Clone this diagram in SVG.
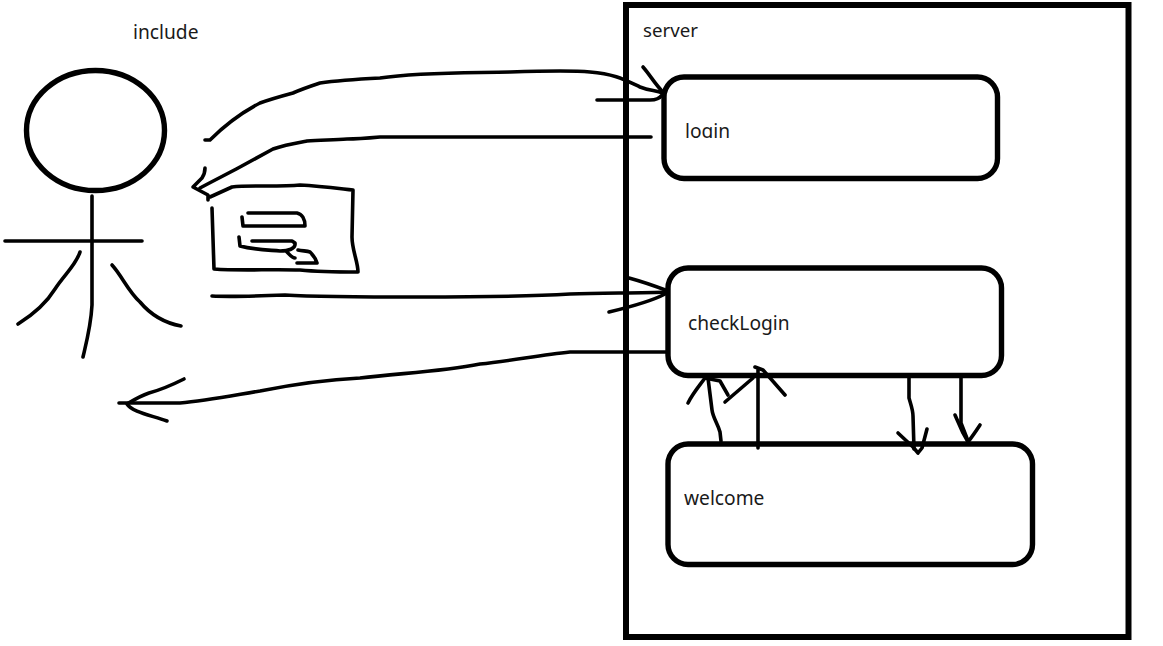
<svg xmlns="http://www.w3.org/2000/svg" width="1163" height="646" viewBox="0 0 1163 646">
<style>
.s{fill:none;stroke:#000;stroke-width:3.6;stroke-linecap:round;stroke-linejoin:round}
.b{fill:none;stroke:#000;stroke-width:5.400}
.t{font-family:"Noto Sans","Open Sans","Liberation Sans",sans-serif;font-size:19.200px;fill:#1a1a1a}
</style>
<defs><clipPath id="cut"><rect x="680" y="115" width="60" height="23"/></clipPath></defs>
<rect width="1163" height="646" fill="#fff"/>
<g id="server"><rect class="b" x="626" y="5" width="502.500" height="632" style="stroke-width:6"/><text class="t" x="643" y="37" style="font-size:18.700px">server</text></g>
<g id="login"><rect class="b" x="664" y="77" width="333.500" height="101.500" rx="20"/><text class="t" x="685" y="138" clip-path="url(#cut)">login</text></g>
<g id="checkLogin"><rect class="b" x="668" y="268" width="333.500" height="107.500" rx="20"/><text class="t" x="688" y="330">checkLogin</text></g>
<g id="welcome"><rect class="b" x="668" y="444" width="364.500" height="120.500" rx="20"/><text class="t" x="684" y="505">welcome</text></g>
<g id="include-label"><text class="t" x="133" y="39">include</text></g>
<g id="user">
<ellipse cx="95.500" cy="130.500" rx="69" ry="60" fill="none" stroke="#000" stroke-width="5.400"/>
<path class="s" d="M92 196V305C91 325 87 340 83 357"/>
<path class="s" d="M5 241H142"/>
<path class="s" d="M80 252C76 265 64 275 55 289C47 302 34 314 18 324"/>
<path class="s" d="M112 265C122 276 128 291 140 302C150 314 165 323 181 326"/>
</g>
<g id="document">
<path class="s" d="M212 208L214 269C240 271 270 269 300 270C320 272 340 272 358 272C358 262 352 250 352 237L353 190C335 188 320 186 300 185C280 187 250 185 232 187L210 197"/>
<path class="s" d="M248 213H297C302 214 305 219 305 226H243L242 217"/>
<path class="s" d="M239 237L240 246C255 250 270 250 280 251C288 251 296 249 295 243L292 241H252"/>
<path class="s" d="M287 252C290 255 292 258 295 258M298 250C303 251 307 251 310 252C313 255 316 259 317 263H297"/>
</g>
<g id="connectors">
<path class="s" d="M205 140H210C224 126 241 113 260 103C271 99 282 96 293 93C302 89 311 86 320 83C340 80 360 79 380 78C420 72 470 73 510 72C540 71 570 70 590 72C615 74 625 80 640 87C650 91 655 90 663 93"/>
<path class="s" d="M643 67C650 75 655 84 662 91"/>
<path class="s" d="M597 100H650C657 100 660 98 662 95"/>
<path class="s" d="M651 137H500C450 137 410 137 380 137C369 138 358 139 347 139C334 140 320 140 307 141C296 143 284 145 273 149C262 155 251 161 240 167C227 174 213 181 200 188"/>
<path class="s" d="M205 168C205 172 204 175 202 178C199 181 196 184 193 187L208 195L208 200"/>
<path class="s" d="M212 296C230 297 260 296 285 295C320 297 370 297 420 297C470 297 520 297 570 294C605 293 640 293 668 292"/>
<path class="s" d="M629 278C640 281 655 286 668 291L665 294C650 302 630 307 609 312"/>
<path class="s" d="M666 352H570C540 355 510 361 480 364C440 372 400 373 360 378C320 380 290 385 260 391C230 396 205 401 180 403H119"/>
<path class="s" d="M184 379C170 386 160 390 149 393C140 396 132 401 127 404C132 412 150 415 167 421"/>
<path class="s" d="M721 441L720 432C718 424 713 418 712 410L708 378"/>
<path class="s" d="M688 403C693 393 700 385 705 378L720 381L728 395"/>
<path class="s" d="M725 402L753 378"/>
<path class="s" d="M758 448V370"/>
<path class="s" d="M755 367L763 370L785 395"/>
<path class="s" d="M909 377V398C911 405 913 410 913 416L914 449"/>
<path class="s" d="M898 433L913 447L918 453L922 448L927 429"/>
<path class="s" d="M961 377V423L968 441"/>
<path class="s" d="M955 415L963 433L968 442C972 437 976 431 980 425"/>
</g>
</svg>
